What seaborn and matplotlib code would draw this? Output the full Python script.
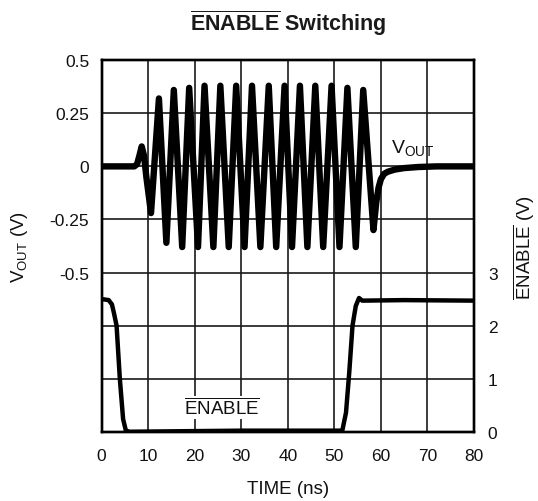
import seaborn as sns
import pandas as pd
import matplotlib
matplotlib.use('Agg')
import matplotlib.pyplot as plt

# V_OUT trace (ns, V): flat start, small bump, ringing, settle
vout_time = [0, 7.0, 7.6, 8.1, 8.6, 9.1, 9.6, 10.6,
             12.3, 13.9, 15.5, 17.3, 18.8, 20.7, 22.1, 24.0, 25.5, 27.3,
             28.9, 30.7, 32.3, 34.1, 35.9, 37.5, 39.3, 40.9, 42.6, 44.2,
             45.9, 47.6, 49.4, 51.1, 52.8, 54.6, 56.2, 58.4,
             59.0, 59.5, 60.0, 60.7, 61.5, 63.0, 65.0, 68.0, 72.0, 80.0]
vout_volts = [0, 0, 0.01, 0.05, 0.094, 0.05, -0.05, -0.22,
              0.32, -0.36, 0.36, -0.38, 0.37, -0.38, 0.38, -0.38, 0.38, -0.38,
              0.38, -0.38, 0.38, -0.38, 0.38, -0.38, 0.38, -0.38, 0.38, -0.38,
              0.38, -0.38, 0.38, -0.38, 0.37, -0.38, 0.36, -0.30,
              -0.17, -0.10, -0.06, -0.035, -0.025, -0.015, -0.008, -0.003, 0.0, 0.0]

# ENABLE trace (ns, V)
en_time = [0, 1.5, 2.2, 2.6, 3.2, 3.9, 4.6, 5.2, 6.0, 30.0, 51.7,
           52.5, 53.2, 53.9, 54.6, 55.3, 56.0, 65.0, 80.0]
en_volts = [2.5, 2.48, 2.4, 2.25, 2.0, 1.0, 0.24, 0.02, 0.0, 0.02, 0.02,
            0.36, 1.12, 2.0, 2.37, 2.52, 2.47, 2.48, 2.47]

x_ticks = [0, 10, 20, 30, 40, 50, 60, 70, 80]
left_ticks = [0.5, 0.25, 0, -0.25, -0.5, -0.75, -1.0, -1.25]
left_labels = ['0.5', '0.25', '0', '-0.25', '-0.5', '', '', '']
right_ticks = [0, 1, 2, 3, 4, 5, 6, 7]
right_labels = ['0', '1', '2', '3', '', '', '', '']

sns.set_style('white')
plt.rcParams['font.family'] = ['Liberation Sans', 'DejaVu Sans']
plt.rcParams['mathtext.fontset'] = 'custom'
plt.rcParams['mathtext.rm'] = 'Liberation Sans'
plt.rcParams['mathtext.bf'] = 'Liberation Sans:bold'
plt.rcParams['mathtext.it'] = 'Liberation Sans:italic'

vout = pd.DataFrame({'t': vout_time, 'v': vout_volts})
enable = pd.DataFrame({'t': en_time, 'v': en_volts})

fig = plt.figure(figsize=(5.38, 5.02), dpi=100)
ax = fig.add_axes([0.189, 0.138, 0.692, 0.740])
ax2 = ax.twinx()

sns.lineplot(data=vout, x='t', y='v', ax=ax, color='black', lw=4.6,
             sort=False, solid_joinstyle='round', solid_capstyle='round')
sns.lineplot(data=enable, x='t', y='v', ax=ax2, color='black', lw=3.2,
             sort=False, solid_joinstyle='round')

ax.set_xlim(0, 80)
ax.set_ylim(-1.25, 0.5)
ax2.set_ylim(0, 7)
ax.set_xticks(x_ticks)
ax.set_yticks(left_ticks)
ax.set_yticklabels(left_labels)
ax2.set_yticks(right_ticks)
ax2.set_yticklabels(right_labels)

ax.grid(True, color='#1a1a1a', lw=1.2)
ax.set_axisbelow(True)
ax.tick_params(axis='y', length=0, labelsize=12.5, pad=9, colors='#111111')
ax.tick_params(axis='x', length=0, labelsize=12.5, pad=12, colors='#111111')
ax2.tick_params(length=0, labelsize=12.5, pad=10, colors='#111111')
for a in (ax, ax2):
    for s in a.spines.values():
        s.set_color('black')
        s.set_linewidth(1.7)

ax.set_xlabel('TIME (ns)', fontsize=13.5, labelpad=12, color='#111111')
ax.set_ylabel(r'V$_{\mathrm{OUT}}$ (V)', fontsize=13.5, labelpad=14,
              color='#111111')
ax2.set_ylabel(r'$\overline{\mathrm{ENABLE}}$ (V)', fontsize=13.5,
               rotation=90, labelpad=10, color='#111111')
ax.set_title(r'$\overline{\mathbf{ENABLE}}$ Switching', fontsize=15.5,
             fontweight='bold', pad=22, color='#1a1a1a')

ax.text(62.1, 0.045, r'V$_{\mathrm{OUT}}$', fontsize=14, ha='left',
        va='bottom', color='#111111')
ax2.text(25.8, 0.26, r'$\overline{\mathrm{ENABLE}}$', fontsize=13.5,
         ha='center', va='bottom', color='#111111',
         bbox=dict(fc='white', ec='none', pad=1))

fig.savefig('out.png', dpi=100)
